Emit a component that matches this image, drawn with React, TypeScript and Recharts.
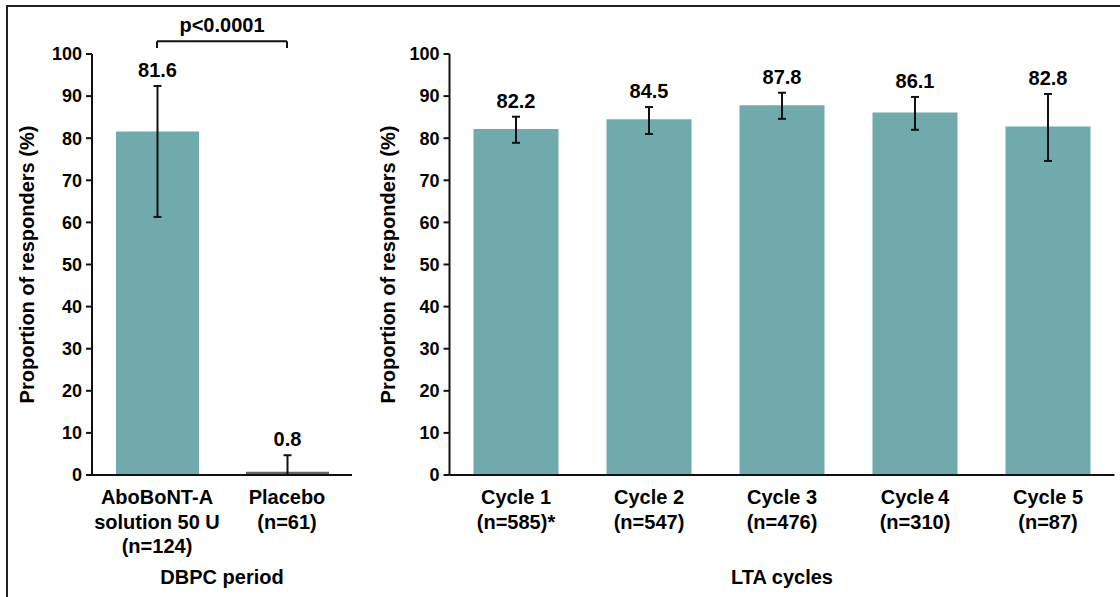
import React from "react";
import {
  Bar,
  BarChart,
  Cell,
  ErrorBar,
  Label,
  LabelList,
  ReferenceLine,
  XAxis,
  YAxis,
} from "recharts";

const FONT = '"Liberation Sans", Arial, Helvetica, sans-serif';
const TEAL = "#71aaac";
const PLACEBO = "#5d676b";
const INK = "#111";

// DBPC period
const dbpcCategories = ["AboBoNT-A\nsolution 50 U\n(n=124)", "Placebo\n(n=61)"];
const dbpcValues = [81.6, 0.8];
const dbpcLower = [61.3, 0];
const dbpcUpper = [92.4, 4.7];
const dbpcColors = [TEAL, PLACEBO];

// LTA cycles
const ltaCategories = [
  "Cycle 1\n(n=585)*",
  "Cycle 2\n(n=547)",
  "Cycle 3\n(n=476)",
  "Cycle\u20094\n(n=310)",
  "Cycle 5\n(n=87)",
];
const ltaValues = [82.2, 84.5, 87.8, 86.1, 82.8];
const ltaLower = [78.9, 81.0, 84.6, 82.0, 74.6];
const ltaUpper = [85.1, 87.4, 90.8, 89.8, 90.5];

const yTicks = [0, 10, 20, 30, 40, 50, 60, 70, 80, 90, 100];
const pValue = "p<0.0001";
const bracketLevel = 103;
const bracketFoot = 101.4;

const build = (cats: string[], vals: number[], lo: number[], hi: number[]) =>
  cats.map((name, i) => ({
    name,
    value: vals[i],
    err: [vals[i] - lo[i], hi[i] - vals[i]],
  }));

const dbpcData = build(dbpcCategories, dbpcValues, dbpcLower, dbpcUpper);
const ltaData = build(ltaCategories, ltaValues, ltaLower, ltaUpper);

const textStyle = { fontFamily: FONT, fontWeight: 700, fill: "#000" };

const MultiTick = (props: any) => {
  const { x, y, payload } = props;
  const lines = String(payload.value).split("\n");
  return (
    <text x={x} y={y} textAnchor="middle" fontSize={20} {...textStyle}>
      {lines.map((l, i) => (
        <tspan key={i} x={x} dy={i === 0 ? 29 : 24.5}>
          {l}
        </tspan>
      ))}
    </text>
  );
};

const valueLabel = (upper: number[]) => (props: any) => {
  const vb = props.viewBox ?? props;
  const x = props.x ?? vb.x;
  const y = props.y ?? vb.y;
  const width = props.width ?? vb.width;
  const height = props.height ?? vb.height;
  const value = Number(props.value);
  const perUnit = height / value;
  const top = y + height - upper[props.index] * perUnit;
  return (
    <text x={x + width / 2} y={top - 9} textAnchor="middle" fontSize={20} {...textStyle}>
      {value.toFixed(1)}
    </text>
  );
};

const yLabel = (shift: number) => (props: any) => {
  const vb = props.viewBox;
  const cx = vb.x + shift;
  const cy = vb.y + vb.height / 2;
  return (
    <text
      x={cx}
      y={cy}
      transform={`rotate(-90, ${cx}, ${cy})`}
      textAnchor="middle"
      dominantBaseline="central"
      fontSize={20}
      {...textStyle}
    >
      Proportion of responders (%)
    </text>
  );
};

const xLabel = (title: string) => (props: any) => {
  const vb = props.viewBox;
  return (
    <text x={vb.x + vb.width / 2} y={584} textAnchor="middle" fontSize={20} {...textStyle}>
      {title}
    </text>
  );
};

const pLabel = (props: any) => {
  const vb = props.viewBox;
  return (
    <text x={vb.x + vb.width / 2} y={vb.y - 9} textAnchor="middle" fontSize={20} {...textStyle}>
      {pValue}
    </text>
  );
};

const axisProps = {
  axisLine: { stroke: INK, strokeWidth: 2 },
  tickLine: { stroke: INK, strokeWidth: 2 },
};

function Panel({
  data,
  width,
  left,
  right,
  barSize,
  colors,
  upper,
  title,
  labelShift,
  bracket,
}: any) {
  return (
    <BarChart
      width={width}
      height={597}
      data={data}
      margin={{ top: 54, right, bottom: 22, left }}
      style={{ position: "absolute", left: 0, top: 0 }}
    >
      <XAxis
        dataKey="name"
        height={100}
        interval={0}
        tickSize={0}
        tickMargin={0}
        tick={<MultiTick />}
        {...axisProps}
        tickLine={false}
      >
        <Label content={xLabel(title)} />
      </XAxis>
      <YAxis
        width={60}
        domain={[0, 100]}
        ticks={yTicks}
        interval={0}
        tickSize={6}
        tickMargin={4}
        tick={{ fontSize: 18, fontFamily: FONT, fontWeight: 700, fill: "#000" }}
        {...axisProps}
      >
        <Label content={yLabel(labelShift)} />
      </YAxis>
      <Bar dataKey="value" barSize={barSize} isAnimationActive={false}>
        {data.map((_: any, i: number) => (
          <Cell key={i} fill={colors ? colors[i] : TEAL} />
        ))}
        <ErrorBar dataKey="err" direction="y" width={4} stroke={INK} strokeWidth={2} />
        <LabelList dataKey="value" content={valueLabel(upper)} />
      </Bar>
      {bracket && (
        <ReferenceLine
          segment={[
            { x: data[0].name, y: bracketLevel },
            { x: data[1].name, y: bracketLevel },
          ]}
          ifOverflow="visible"
          stroke={INK}
          strokeWidth={2}
          label={pLabel}
        />
      )}
      {bracket && (
        <ReferenceLine
          segment={[
            { x: data[0].name, y: bracketFoot },
            { x: data[0].name, y: bracketLevel },
          ]}
          ifOverflow="visible"
          stroke={INK}
          strokeWidth={2}
        />
      )}
      {bracket && (
        <ReferenceLine
          segment={[
            { x: data[1].name, y: bracketFoot },
            { x: data[1].name, y: bracketLevel },
          ]}
          ifOverflow="visible"
          stroke={INK}
          strokeWidth={2}
        />
      )}
    </BarChart>
  );
}

export default function App() {
  return (
    <div
      style={{
        position: "absolute",
        left: 0,
        top: 0,
        width: 1120,
        height: 597,
        background: "#fff",
        overflow: "hidden",
      }}
    >
      <div
        style={{
          position: "absolute",
          left: 6,
          top: 5,
          width: 1130,
          height: 600,
          borderLeft: "2px solid #222",
          borderTop: "2px solid #222",
        }}
      />
      <div style={{ position: "absolute", left: 0, top: 0, width: 370, height: 597 }}>
        <Panel
          data={dbpcData}
          width={370}
          left={32}
          right={18}
          barSize={83}
          colors={dbpcColors}
          upper={dbpcUpper}
          title="DBPC period"
          labelShift={-5}
          bracket
        />
      </div>
      <div style={{ position: "absolute", left: 360, top: 0, width: 760, height: 597 }}>
        <Panel
          data={ltaData}
          width={760}
          left={29.5}
          right={5.5}
          barSize={85}
          upper={ltaUpper}
          title="LTA cycles"
          labelShift={-1.5}
        />
      </div>
    </div>
  );
}
